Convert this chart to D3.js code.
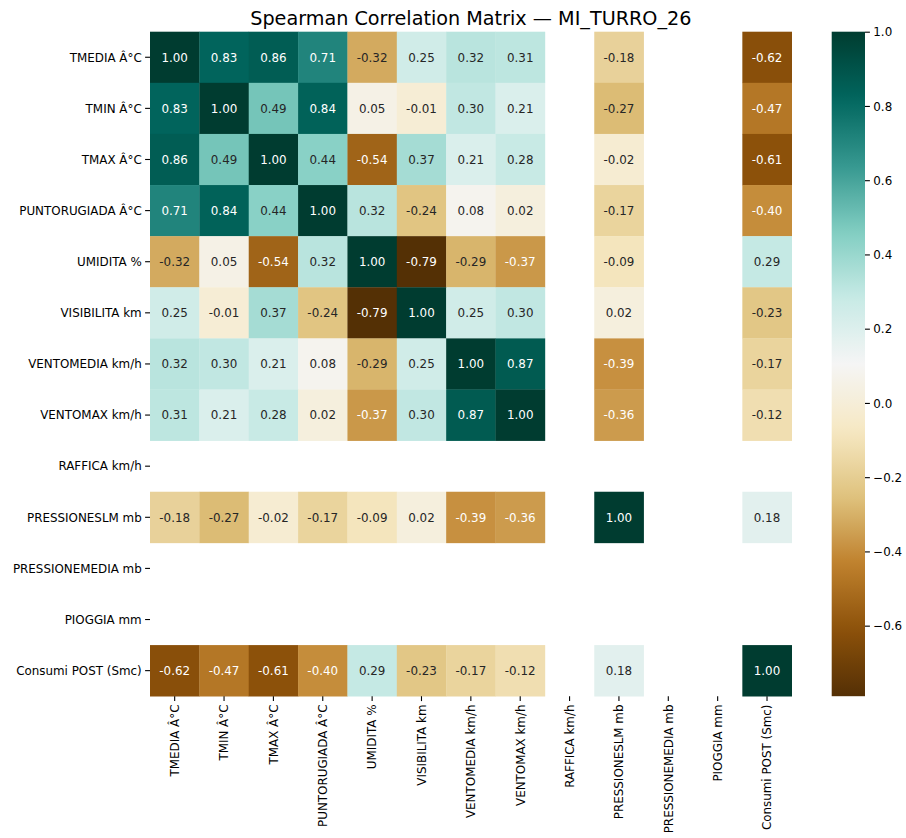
<!DOCTYPE html>
<html>
<head>
<meta charset="utf-8">
<script src="https://cdn.jsdelivr.net/npm/d3@7"></script>
<style>
  html, body { margin: 0; padding: 0; background: #ffffff; }
  svg { display: block; font-family: "DejaVu Sans", sans-serif; }
</style>
</head>
<body>
<svg id="chart" width="906" height="838"></svg>
<script>
// Variable names (rows and columns of the matrix)
const labels = [
  "TMEDIA Â°C", "TMIN Â°C", "TMAX Â°C", "PUNTORUGIADA Â°C", "UMIDITA %",
  "VISIBILITA km", "VENTOMEDIA km/h", "VENTOMAX km/h", "RAFFICA km/h",
  "PRESSIONESLM mb", "PRESSIONEMEDIA mb", "PIOGGIA mm", "Consumi POST (Smc)"
];

// Spearman coefficients, one row per variable; null = undefined (constant series)
const rowTMEDIA       = [1.00, 0.83, 0.86, 0.71, -0.32, 0.25, 0.32, 0.31, null, -0.18, null, null, -0.62];
const rowTMIN         = [0.83, 1.00, 0.49, 0.84, 0.05, -0.01, 0.30, 0.21, null, -0.27, null, null, -0.47];
const rowTMAX         = [0.86, 0.49, 1.00, 0.44, -0.54, 0.37, 0.21, 0.28, null, -0.02, null, null, -0.61];
const rowPUNTO        = [0.71, 0.84, 0.44, 1.00, 0.32, -0.24, 0.08, 0.02, null, -0.17, null, null, -0.40];
const rowUMIDITA      = [-0.32, 0.05, -0.54, 0.32, 1.00, -0.79, -0.29, -0.37, null, -0.09, null, null, 0.29];
const rowVISIBILITA   = [0.25, -0.01, 0.37, -0.24, -0.79, 1.00, 0.25, 0.30, null, 0.02, null, null, -0.23];
const rowVENTOMEDIA   = [0.32, 0.30, 0.21, 0.08, -0.29, 0.25, 1.00, 0.87, null, -0.39, null, null, -0.17];
const rowVENTOMAX     = [0.31, 0.21, 0.28, 0.02, -0.37, 0.30, 0.87, 1.00, null, -0.36, null, null, -0.12];
const rowRAFFICA      = [null, null, null, null, null, null, null, null, null, null, null, null, null];
const rowPRESSIONESLM = [-0.18, -0.27, -0.02, -0.17, -0.09, 0.02, -0.39, -0.36, null, 1.00, null, null, 0.18];
const rowPRESSIONEMED = [null, null, null, null, null, null, null, null, null, null, null, null, null];
const rowPIOGGIA      = [null, null, null, null, null, null, null, null, null, null, null, null, null];
const rowCONSUMI      = [-0.62, -0.47, -0.61, -0.40, 0.29, -0.23, -0.17, -0.12, null, 0.18, null, null, 1.00];

const matrix = [rowTMEDIA, rowTMIN, rowTMAX, rowPUNTO, rowUMIDITA, rowVISIBILITA,
  rowVENTOMEDIA, rowVENTOMAX, rowRAFFICA, rowPRESSIONESLM, rowPRESSIONEMED, rowPIOGGIA, rowCONSUMI];

const colorbarTicks = [-0.6, -0.4, -0.2, 0.0, 0.2, 0.4, 0.6, 0.8, 1.0];
const titleText = "Spearman Correlation Matrix — MI_TURRO_26";

// BrBG (ColorBrewer 11-class), linearly interpolated
const brbg = ["#543005", "#8c510a", "#bf812d", "#dfc27d", "#f6e8c3", "#f5f5f5",
              "#c7eae5", "#80cdc1", "#35978f", "#01665e", "#003c30"];

const svg = d3.select("#chart");

// Layout
const plotLeft = 150, plotRight = 791.7, plotTop = 31.7, plotBottom = 696.2;
const fontSize = 11.9;
const tickLen = 4.9, tickPad = 3.4;

const allVals = matrix.flat().filter(v => v !== null);
const vmin = d3.min(allVals), vmax = d3.max(allVals);

const cmapUnit = d3.scaleLinear()
  .domain(d3.range(brbg.length).map(i => i / (brbg.length - 1)))
  .range(brbg)
  .interpolate(d3.interpolateRgb);
const norm = d3.scaleLinear().domain([vmin, vmax]).range([0, 1]).clamp(true);
const color = v => cmapUnit(norm(v));

const x = d3.scaleBand().domain(labels).range([plotLeft, plotRight]);
const y = d3.scaleBand().domain(labels).range([plotTop, plotBottom]);

// Relative luminance to choose annotation colour
function luminance(c) {
  const rgb = d3.rgb(c);
  const lin = [rgb.r, rgb.g, rgb.b].map(v => {
    v /= 255;
    return v <= 0.03928 ? v / 12.92 : Math.pow((v + 0.055) / 1.055, 2.4);
  });
  return 0.2126 * lin[0] + 0.7152 * lin[1] + 0.0722 * lin[2];
}

const cells = [];
matrix.forEach((row, i) => row.forEach((v, j) => {
  if (v !== null) cells.push({ r: labels[i], c: labels[j], v });
}));

const g = svg.append("g");
g.selectAll("rect.cell")
  .data(cells)
  .join("rect")
  .attr("class", "cell")
  .attr("x", d => x(d.c))
  .attr("y", d => y(d.r))
  .attr("width", x.bandwidth() + 0.3)
  .attr("height", y.bandwidth() + 0.3)
  .attr("fill", d => color(d.v));

g.selectAll("text.annot")
  .data(cells)
  .join("text")
  .attr("class", "annot")
  .attr("x", d => x(d.c) + x.bandwidth() / 2)
  .attr("y", d => y(d.r) + y.bandwidth() / 2)
  .attr("dy", "0.36em")
  .attr("text-anchor", "middle")
  .attr("font-size", fontSize)
  .attr("fill", d => luminance(color(d.v)) > 0.408 ? "#262626" : "#ffffff")
  .text(d => d.v.toFixed(2));

// Axes
const yAxis = svg.append("g")
  .attr("transform", `translate(${plotLeft},0)`)
  .call(d3.axisLeft(y).tickSize(tickLen).tickPadding(tickPad));
yAxis.select(".domain").remove();
yAxis.selectAll("line").attr("stroke", "#000").attr("stroke-width", 1.1);
yAxis.selectAll("text").attr("font-size", fontSize).attr("fill", "#000")
  .attr("font-family", "DejaVu Sans, sans-serif").attr("dy", "0.36em");

const xAxis = svg.append("g")
  .attr("transform", `translate(0,${plotBottom})`)
  .call(d3.axisBottom(x).tickSize(tickLen).tickPadding(tickPad));
xAxis.select(".domain").remove();
xAxis.selectAll("line").attr("stroke", "#000").attr("stroke-width", 1.1);
xAxis.selectAll("text")
  .attr("font-size", fontSize).attr("fill", "#000")
  .attr("font-family", "DejaVu Sans, sans-serif")
  .attr("text-anchor", "end")
  .attr("x", 0).attr("y", 0)
  .attr("dy", "0.36em")
  .attr("transform", `translate(0,${tickLen + tickPad}) rotate(-90)`);

// Colour bar
const cbX = 831.7, cbW = 33.3;
const cbScale = d3.scaleLinear().domain([vmin, vmax]).range([plotBottom, plotTop]);
const defs = svg.append("defs");
const grad = defs.append("linearGradient")
  .attr("id", "cbgrad").attr("x1", 0).attr("y1", 1).attr("x2", 0).attr("y2", 0);
d3.range(0, 1.0001, 1 / 64).forEach(t => {
  grad.append("stop").attr("offset", t).attr("stop-color", cmapUnit(t));
});
svg.append("rect")
  .attr("x", cbX).attr("y", plotTop)
  .attr("width", cbW).attr("height", plotBottom - plotTop)
  .attr("fill", "url(#cbgrad)");

const fmt = v => d3.format(".1f")(v).replace("-", "\u2212");
const cbAxis = svg.append("g")
  .attr("transform", `translate(${cbX + cbW},0)`)
  .call(d3.axisRight(cbScale).tickValues(colorbarTicks).tickFormat(fmt)
    .tickSize(tickLen).tickPadding(3.4));
cbAxis.select(".domain").remove();
cbAxis.selectAll("line").attr("stroke", "#000").attr("stroke-width", 1.1);
cbAxis.selectAll("text").attr("font-size", fontSize).attr("fill", "#000")
  .attr("font-family", "DejaVu Sans, sans-serif").attr("dy", "0.36em");

// Title
svg.append("text")
  .attr("x", (plotLeft + plotRight) / 2)
  .attr("y", 25)
  .attr("text-anchor", "middle")
  .attr("font-size", 19.2)
  .attr("fill", "#000")
  .text(titleText);
</script>
</body>
</html>
